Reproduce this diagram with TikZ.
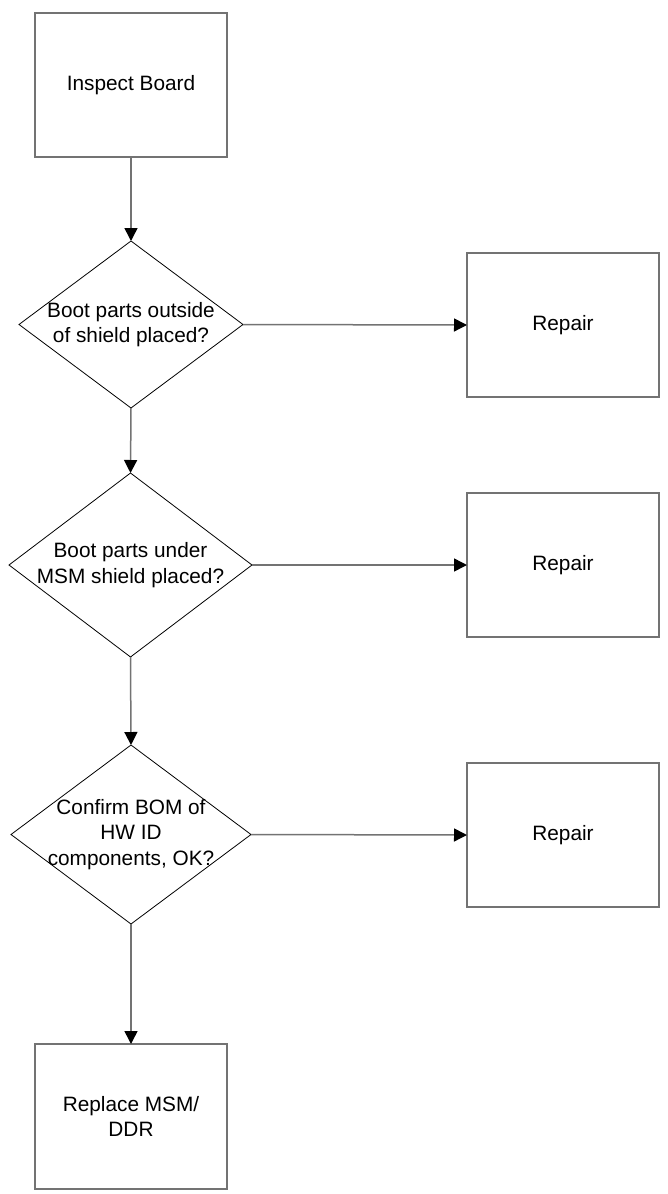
\documentclass[tikz,border=0pt]{standalone}
\usepackage{fontspec}
\setmainfont{Liberation Sans}
\usetikzlibrary{shapes.geometric,arrows.meta}
\begin{document}
\begin{tikzpicture}[x=1pt,y=-1pt,
  every node/.style={outer sep=0pt, font=\fontsize{20.8}{25.5}\selectfont},
  procbox/.style={draw=gray!90!black, line width=1.5pt, minimum width=192pt, minimum height=144pt, align=center, inner sep=0pt},
  decision/.style={diamond, draw=black, line width=0.8pt, inner sep=0pt},
  dlabel/.style={align=center, inner sep=0pt},
  flow/.style={draw=gray!90!black, line width=1.5pt, -{Triangle[length=13pt,width=13pt,fill=black,color=black]}}
]
\useasboundingbox (0,0) rectangle (667,1194);
\node[procbox] (inspect) at (131,85) {Inspect Board};
\node[decision, minimum width=224pt, minimum height=167pt] (d1) at (131,324.5) {};
\node[dlabel] (t1) at (d1.center) {Boot parts outside\\of shield placed?};
\node[procbox] (r1) at (563,325) {Repair};
\node[decision, minimum width=243pt, minimum height=184pt] (d2) at (130.5,565) {};
\node[dlabel] (t2) at (d2.center) {Boot parts under\\MSM shield placed?};
\node[procbox] (r2) at (563,565) {Repair};
\node[decision, minimum width=240pt, minimum height=179pt] (d3) at (131,834.5) {};
\node[dlabel] (t3) at (d3.center) {Confirm BOM of\\HW ID\\components, OK?};
\node[procbox] (r3) at (563,835) {Repair};
\node[procbox, minimum height=145pt] (rep) at (131,1116.5) {Replace MSM/\\DDR};
\draw[flow] (inspect.south) -- (d1.north);
\draw[flow] (d1.east) -- (r1.west);
\draw[flow] (d1.south) -- (d2.north);
\draw[flow] (d2.east) -- (r2.west);
\draw[flow] (d2.south) -- (d3.north);
\draw[flow] (d3.east) -- (r3.west);
\draw[flow] (d3.south) -- (rep.north);
\end{tikzpicture}
\end{document}
